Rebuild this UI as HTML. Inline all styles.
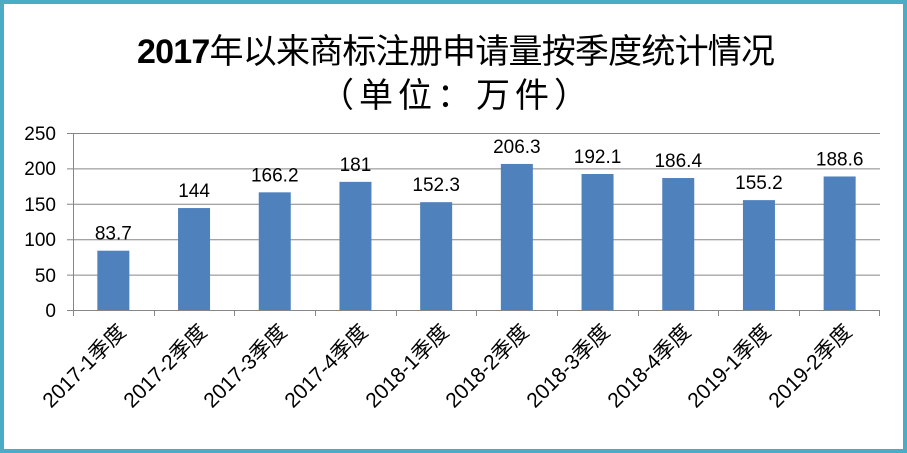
<!DOCTYPE html>
<html><head><meta charset="utf-8"><style>
html,body{margin:0;padding:0;background:#fff;}
svg{display:block;}
text{font-family:"Liberation Sans","Noto Sans CJK SC",sans-serif;fill:#000;}
</style></head><body>
<svg width="907" height="453" viewBox="0 0 907 453" xmlns="http://www.w3.org/2000/svg">
<rect x="0" y="0" width="907" height="453" fill="#fff"/>
<rect x="2" y="2" width="903" height="449" fill="none" stroke="#4bacc6" stroke-width="4"/>
<text x="137" y="63" font-size="34" textLength="638" lengthAdjust="spacing"><tspan font-weight="bold">2017</tspan>年以来商标注册申请量按季度统计情况</text>
<text x="320" y="107" font-size="34" textLength="268" lengthAdjust="spacing">（单位：万件）</text>
<g stroke="#868686" stroke-width="1">
<line x1="67" y1="133.5" x2="880" y2="133.5"/>
<line x1="67" y1="168.9" x2="880" y2="168.9"/>
<line x1="67" y1="204.3" x2="880" y2="204.3"/>
<line x1="67" y1="239.7" x2="880" y2="239.7"/>
<line x1="67" y1="275.1" x2="880" y2="275.1"/>
<line x1="67" y1="310.5" x2="880" y2="310.5"/>
<line x1="73.5" y1="133" x2="73.5" y2="316"/>
<line x1="154.5" y1="310" x2="154.5" y2="316"/>
<line x1="234.5" y1="310" x2="234.5" y2="316"/>
<line x1="315.5" y1="310" x2="315.5" y2="316"/>
<line x1="396.5" y1="310" x2="396.5" y2="316"/>
<line x1="476.5" y1="310" x2="476.5" y2="316"/>
<line x1="557.5" y1="310" x2="557.5" y2="316"/>
<line x1="638.5" y1="310" x2="638.5" y2="316"/>
<line x1="718.5" y1="310" x2="718.5" y2="316"/>
<line x1="799.5" y1="310" x2="799.5" y2="316"/>
<line x1="879.5" y1="310" x2="879.5" y2="316"/>
</g>
<g font-size="19" text-anchor="end">
<text x="56" y="140">250</text>
<text x="56" y="175">200</text>
<text x="56" y="211">150</text>
<text x="56" y="246">100</text>
<text x="56" y="282">50</text>
<text x="56" y="317">0</text>
</g>
<g fill="#4f81bd">
<rect x="97.35" y="250.7" width="32" height="59.3"/>
<rect x="178.05" y="208.05" width="32" height="101.95"/>
<rect x="258.75" y="192.33" width="32" height="117.67"/>
<rect x="339.45" y="181.85" width="32" height="128.15"/>
<rect x="420.15" y="202.17" width="32" height="107.83"/>
<rect x="500.85" y="163.94" width="32" height="146.06"/>
<rect x="581.55" y="173.99" width="32" height="136.01"/>
<rect x="662.25" y="178.03" width="32" height="131.97"/>
<rect x="742.95" y="200.12" width="32" height="109.88"/>
<rect x="823.65" y="176.47" width="32" height="133.53"/>
</g>
<g font-size="19" text-anchor="middle">
<text x="113.35" y="239.7">83.7</text>
<text x="194.05" y="197">144</text>
<text x="274.75" y="181.3">166.2</text>
<text x="355.45" y="170.8">181</text>
<text x="436.15" y="191.2">152.3</text>
<text x="516.85" y="152.9">206.3</text>
<text x="597.55" y="163">192.1</text>
<text x="678.25" y="167">186.4</text>
<text x="758.95" y="189.1">155.2</text>
<text x="839.65" y="165.5">188.6</text>
</g>
<g font-size="21" text-anchor="end">
<text transform="translate(127,333) rotate(-45)">2017-1季度</text>
<text transform="translate(208,333) rotate(-45)">2017-2季度</text>
<text transform="translate(288,333) rotate(-45)">2017-3季度</text>
<text transform="translate(369,333) rotate(-45)">2017-4季度</text>
<text transform="translate(450,333) rotate(-45)">2018-1季度</text>
<text transform="translate(530,333) rotate(-45)">2018-2季度</text>
<text transform="translate(611,333) rotate(-45)">2018-3季度</text>
<text transform="translate(692,333) rotate(-45)">2018-4季度</text>
<text transform="translate(772,333) rotate(-45)">2019-1季度</text>
<text transform="translate(853,333) rotate(-45)">2019-2季度</text>
</g>
</svg>
</body></html>
